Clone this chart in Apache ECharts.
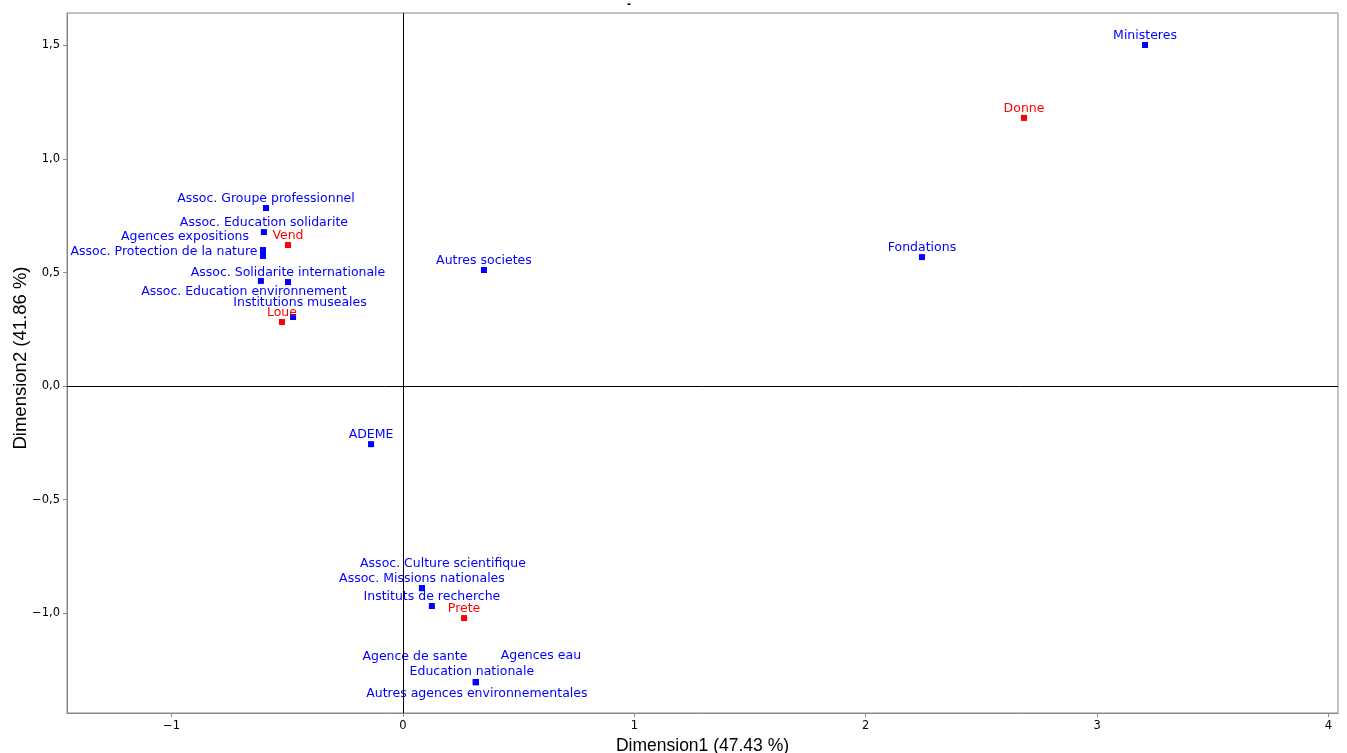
<!DOCTYPE html>
<html><head><meta charset="utf-8">
<script src="https://cdn.jsdelivr.net/npm/echarts@6/dist/echarts.min.js"></script>
<style>html,body{margin:0;padding:0;background:#fff}#c{width:1347px;height:753px}</style>
</head><body><div id="c"></div>
<script>
// Row (category) points: blue
const rowNames = ["Ministeres","Fondations","Autres societes","Assoc. Groupe professionnel","Assoc. Education solidarite","Agences expositions","Assoc. Protection de la nature","Assoc. Solidarite internationale","Assoc. Education environnement","Institutions museales","ADEME","Assoc. Culture scientifique","Assoc. Missions nationales","Instituts de recherche","Agence de sante","Agences eau","Education nationale","Autres agences environnementales"];
const rowDim1 = [3.207,2.243,0.350,-0.592,-0.601,-0.605,-0.605,-0.497,-0.614,-0.475,-0.138,0.082,0.082,0.125,0.315,0.315,0.315,0.315];
const rowDim2 = [1.502,0.568,0.511,0.784,0.678,0.599,0.573,0.458,0.463,0.304,-0.256,-0.890,-0.890,-0.969,-1.304,-1.304,-1.304,-1.304];
// Column points: red
const colNames = ["Donne","Vend","Loue","Prete"];
const colDim1 = [2.684,-0.497,-0.523,0.264];
const colDim2 = [1.181,0.621,0.282,-1.022];
const xTicks = [-1,0,1,2,3,4];
const yTicks = [-1,-0.5,0,0.5,1,1.5];
const xTitle = "Dimension1 (47.43 %)";
const yTitle = "Dimension2 (41.86 %)";

// label placement (repelled positions), px offsets from point
const labelOffsets = {
  "Agences expositions":[-78,-13],
  "Assoc. Protection de la nature":[-99,-4],
  "Assoc. Education environnement":[-17,11],
  "Institutions museales":[7,-14],
  "Assoc. Culture scientifique":[21,-24],
  "Agence de sante":[-61,-25],
  "Agences eau":[65,-26],
  "Education nationale":[-4,-10],
  "Autres agences environnementales":[1,12]
};
const fmtY = v => (v<0?'\u2212':'') + Math.abs(v).toFixed(1).replace('.',',');
const fmtX = v => (v<0?'\u2212':'') + Math.abs(v);
function mk(names,xs,ys,color){
  return names.map((n,i)=>{
    const off = labelOffsets[n] || [0,-9];
    return {name:n, value:[xs[i],ys[i]],
      label:{show:true, position:'inside', offset:off, align:'center', verticalAlign:'middle',
        formatter:n, color:color, opacity:1, fontFamily:'DejaVu Sans', fontSize:12.5}};
  });
}

const chart = echarts.init(document.getElementById('c'), null, {renderer:'canvas'});
chart.setOption({
  animation:false,
  title:{text:'-', left:622, top:-6, textStyle:{fontSize:12, fontWeight:'bold', color:'#000'}},
  grid:{left:67, right:9, top:13, bottom:40, show:true, borderColor:'#888', borderWidth:1,
    containLabel:false, outerBoundsMode:'none'},
  xAxis:{type:'value', min:-1.452, max:4.041, splitLine:{show:false},
    axisLine:{show:true, onZero:false, lineStyle:{color:'#888'}},
    axisTick:{show:true, length:4, customValues:xTicks, lineStyle:{color:'#888'}},
    axisLabel:{customValues:xTicks, formatter:fmtX, color:'#000', fontFamily:'DejaVu Sans', fontSize:11.5, margin:7},
    name:xTitle, nameLocation:'middle', nameGap:24,
    nameTextStyle:{fontFamily:'Liberation Sans', fontSize:17.5, color:'#000'}},
  yAxis:{type:'value', min:-1.440, max:1.643, splitLine:{show:false},
    axisLine:{show:true, onZero:false, lineStyle:{color:'#888'}},
    axisTick:{show:true, length:4, customValues:yTicks, lineStyle:{color:'#888'}},
    axisLabel:{customValues:yTicks, formatter:fmtY, color:'#000', fontFamily:'DejaVu Sans', fontSize:11.5, margin:7},
    name:yTitle, nameLocation:'middle', nameGap:37, nameRotate:90, nameMoveOverlap:false,
    nameTextStyle:{fontFamily:'Liberation Sans', fontSize:18.5, color:'#000', padding:[0,0,0,10]}},
  series:[
    {type:'scatter', symbol:'rect', symbolSize:6, itemStyle:{color:'#0000FF', opacity:1},
     data:mk(rowNames,rowDim1,rowDim2,'#0000FF'), z:3,
     markLine:{silent:true, symbol:'none', label:{show:false},
       lineStyle:{color:'#000', width:1, type:'solid'},
       data:[{xAxis:0},{yAxis:0}]}},
    {type:'scatter', symbol:'rect', symbolSize:6, itemStyle:{color:'#FF0000', opacity:1},
     data:mk(colNames,colDim1,colDim2,'#FF0000'), z:4}
  ]
});
</script></body></html>
